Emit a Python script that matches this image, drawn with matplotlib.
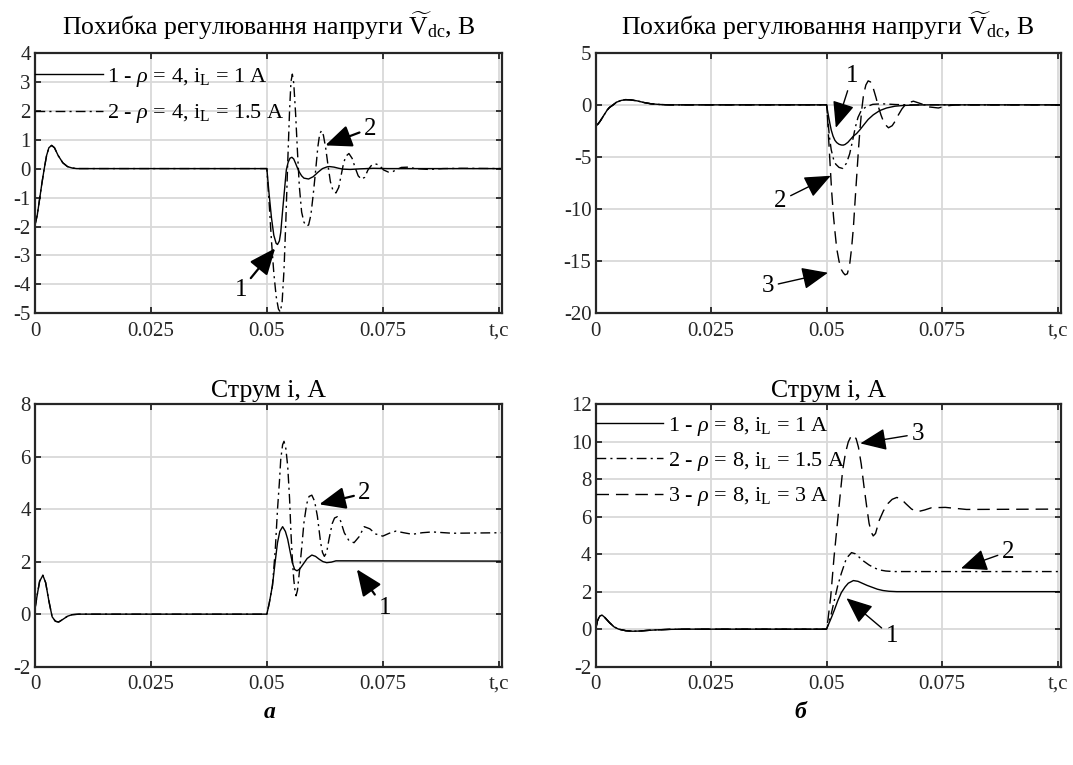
import matplotlib
matplotlib.use('Agg')
import matplotlib.pyplot as plt

# fonts - Times-like serif, hyphen minus as in the original figure
plt.rcParams['font.family'] = ['Liberation Serif', 'DejaVu Serif']
plt.rcParams['mathtext.fontset'] = 'custom'
plt.rcParams['mathtext.rm'] = 'Liberation Serif'
plt.rcParams['mathtext.it'] = 'Liberation Serif:italic'
plt.rcParams['mathtext.bf'] = 'Liberation Serif:bold'
plt.rcParams['axes.unicode_minus'] = False

# common x axis
x_ticks = [0, 0.025, 0.05, 0.075, 0.1]
x_tick_labels = ['0', '0.025', '0.05', '0.075', 't,c']
x_max = 0.1007

# ---------------- (a) rho = 4 : voltage error ----------------
init_a_t = [0, 0.0005, 0.001, 0.0015, 0.002, 0.0025, 0.003, 0.0036, 0.0042, 0.005, 0.006, 0.007, 0.008, 0.009, 0.05]
init_a_v = [-1.95, -1.6, -1.05, -0.5, 0.0, 0.45, 0.72, 0.8, 0.72, 0.45, 0.2, 0.07, 0.02, 0.0, 0.0]

vdc_a1_t = [0.0505, 0.051, 0.0515, 0.052, 0.0523, 0.0527, 0.053, 0.0534, 0.0538, 0.0542, 0.0546, 0.055, 0.0554,
            0.0558, 0.0562, 0.0566, 0.057, 0.0575, 0.058, 0.059, 0.060, 0.061, 0.062, 0.063, 0.0635, 0.0645, 0.0655,
            0.0665, 0.068, 0.070, 0.073, 0.076, 0.101]
vdc_a1_v = [-0.9, -1.7, -2.3, -2.58, -2.62, -2.5, -2.2, -1.45, -0.75, -0.05, 0.22, 0.36, 0.39, 0.33, 0.18, 0.02,
            -0.12, -0.25, -0.33, -0.36, -0.28, -0.13, 0.0, 0.06, 0.07, 0.05, 0.01, -0.02, -0.03, -0.01, 0.01, 0.0, 0.0]

vdc_a2_t = [0.0505, 0.051, 0.0515, 0.052, 0.0525, 0.0529, 0.0533, 0.0537, 0.0541, 0.0545, 0.0549, 0.0552, 0.0555,
            0.0558, 0.0562, 0.0566, 0.057, 0.0575, 0.058, 0.0585, 0.059, 0.0595, 0.060, 0.0605, 0.061, 0.0614, 0.0618,
            0.0622, 0.0627, 0.0632, 0.0637, 0.0643, 0.0649, 0.0655, 0.066, 0.0665, 0.067, 0.0677, 0.0684, 0.069,
            0.0697, 0.0704, 0.0711, 0.0718, 0.0725, 0.0733, 0.0742, 0.0752, 0.0762, 0.0772, 0.0782, 0.079, 0.0805,
            0.082, 0.085, 0.088, 0.092, 0.101]
vdc_a2_v = [-1.2, -2.5, -3.6, -4.4, -4.85, -4.95, -4.6, -3.5, -1.8, 0.2, 2.0, 3.0, 3.26, 2.95, 1.9, 0.6, -0.6,
            -1.5, -1.85, -1.98, -1.95, -1.6, -0.9, -0.1, 0.75, 1.2, 1.31, 1.15, 0.7, 0.1, -0.45, -0.78, -0.84,
            -0.65, -0.25, 0.15, 0.42, 0.52, 0.35, 0.05, -0.25, -0.37, -0.3, -0.05, 0.1, 0.17, 0.12, -0.05, -0.12,
            -0.1, -0.02, 0.04, 0.05, 0.0, -0.03, 0.0, 0.01, 0.0]

# ---------------- (b) rho = 8 : voltage error ----------------
init_b_t = [0, 0.0005, 0.001, 0.0015, 0.002, 0.0025, 0.003, 0.0038, 0.0045, 0.0055, 0.0065, 0.0075, 0.009, 0.0105,
            0.012, 0.014, 0.016, 0.05]
init_b_v = [-2.0, -1.85, -1.55, -1.2, -0.85, -0.5, -0.25, 0.0, 0.25, 0.42, 0.5, 0.48, 0.38, 0.22, 0.1, 0.03, 0.0, 0.0]

vdc_b1_t = [0.0503, 0.0507, 0.051, 0.0514, 0.0518, 0.0522, 0.0527, 0.0532, 0.0536, 0.054, 0.0546, 0.0552, 0.0558,
            0.0565, 0.0572, 0.058, 0.059, 0.0601, 0.0615, 0.063, 0.0648, 0.0666, 0.069, 0.072, 0.101]
vdc_b1_v = [-0.8, -1.75, -2.4, -3.0, -3.4, -3.62, -3.78, -3.85, -3.86, -3.8, -3.6, -3.3, -3.0, -2.75, -2.4, -1.95,
            -1.4, -0.96, -0.55, -0.3, -0.13, -0.06, -0.02, 0.0, 0.0]

vdc_b2_t = [0.0503, 0.0506, 0.051, 0.0515, 0.052, 0.0527, 0.0535, 0.0543, 0.055, 0.0556, 0.0562, 0.0568, 0.0575,
            0.0585, 0.060, 0.062, 0.065, 0.068, 0.101]
vdc_b2_v = [-1.5, -3.0, -4.3, -5.2, -5.7, -6.0, -6.1, -5.6, -4.7, -3.5, -2.2, -1.2, -0.55, -0.2, 0.05, 0.1, 0.03,
            0.0, 0.0]

vdc_b3_t = [0.0502, 0.0504, 0.0508, 0.0511, 0.0515, 0.0518, 0.0522, 0.0527, 0.0532, 0.0536, 0.054, 0.0545, 0.055,
            0.0554, 0.0558, 0.0562, 0.0565, 0.0569, 0.0572, 0.0576, 0.058, 0.0585, 0.059, 0.0595, 0.0601, 0.0607,
            0.0612, 0.0618, 0.0625, 0.0634, 0.0642, 0.0648, 0.0655, 0.0663, 0.0673, 0.0688, 0.0705, 0.0722, 0.0742,
            0.076, 0.078, 0.101]
vdc_b3_v = [-1.2, -2.9, -6.0, -8.3, -10.7, -12.1, -13.8, -15.0, -15.8, -16.1, -16.3, -16.2, -15.3, -13.8, -11.8,
            -9.0, -7.0, -4.3, -2.5, -0.5, 0.96, 1.9, 2.3, 2.2, 1.6, 0.7, -0.16, -1.0, -1.8, -2.2, -2.0, -1.6, -1.0,
            -0.4, 0.15, 0.35, 0.1, -0.2, -0.3, -0.1, 0.0, 0.0]

# ---------------- (a) rho = 4 : current ----------------
init_c_t = [0, 0.0005, 0.001, 0.0017, 0.0023, 0.003, 0.0037, 0.0044, 0.0051, 0.006, 0.007, 0.008, 0.0095, 0.05]
init_c_v = [0.2, 0.75, 1.25, 1.48, 1.2, 0.5, -0.1, -0.27, -0.3, -0.2, -0.08, -0.02, 0.0, 0.0]

cur_a1_t = [0.0505, 0.0512, 0.0518, 0.0523, 0.0528, 0.0534, 0.054, 0.0545, 0.055, 0.0555, 0.056, 0.0565, 0.0571,
            0.0577, 0.0587, 0.0597, 0.0605, 0.0613, 0.0621, 0.0629, 0.0639, 0.0649, 0.066, 0.101]
cur_a1_v = [0.4, 1.08, 2.0, 2.72, 3.15, 3.33, 3.15, 2.85, 2.4, 1.96, 1.7, 1.65, 1.72, 1.87, 2.12, 2.25, 2.2, 2.09,
            2.0, 1.96, 1.98, 2.03, 2.03, 2.02]

cur_a2_t = [0.0505, 0.0512, 0.0518, 0.0523, 0.0527, 0.053, 0.0534, 0.0537, 0.0541, 0.0545, 0.0549, 0.0552, 0.0555,
            0.0558, 0.0561, 0.0563, 0.0566, 0.057, 0.0575, 0.058, 0.0586, 0.0591, 0.0597, 0.0603, 0.0609, 0.0616,
            0.062, 0.0624, 0.0629, 0.0634, 0.0641, 0.0646, 0.0652, 0.0659, 0.0667, 0.0677, 0.0688, 0.0699, 0.071,
            0.0722, 0.0735, 0.075, 0.0764, 0.0778, 0.0795, 0.0814, 0.0835, 0.0857, 0.09, 0.101]
cur_a2_v = [0.4, 1.08, 2.4, 3.99, 5.0, 5.9, 6.45, 6.58, 6.3, 5.63, 4.4, 3.1, 2.1, 1.33, 0.85, 0.7, 0.9, 1.58, 2.5,
            3.48, 4.2, 4.48, 4.53, 4.3, 3.73, 2.72, 2.35, 2.2, 2.35, 2.85, 3.45, 3.66, 3.71, 3.55, 3.1, 2.8, 2.72,
            2.95, 3.33, 3.25, 3.05, 2.97, 3.08, 3.16, 3.1, 3.04, 3.1, 3.13, 3.08, 3.1]

# ---------------- (b) rho = 8 : current ----------------
init_d_t = [0, 0.0004, 0.0009, 0.0014, 0.002, 0.003, 0.004, 0.005, 0.0065, 0.008, 0.0095, 0.011, 0.013, 0.016,
            0.02, 0.05]
init_d_v = [0.0, 0.45, 0.7, 0.75, 0.62, 0.35, 0.12, 0.0, -0.08, -0.11, -0.1, -0.07, -0.04, -0.01, 0.0, 0.0]

cur_b1_t = [0.0505, 0.0511, 0.0517, 0.0524, 0.0532, 0.054, 0.0547, 0.0558, 0.0568, 0.0577, 0.0588, 0.0599, 0.061,
            0.0622, 0.0635, 0.0652, 0.101]
cur_b1_v = [0.3, 0.65, 1.03, 1.5, 1.95, 2.25, 2.45, 2.59, 2.55, 2.45, 2.33, 2.23, 2.13, 2.06, 2.02, 2.0, 2.0]

cur_b2_t = [0.0504, 0.051, 0.0517, 0.0524, 0.0532, 0.0543, 0.0554, 0.0562, 0.0569, 0.058, 0.0592, 0.0603, 0.0614,
            0.0628, 0.0645, 0.101]
cur_b2_v = [0.3, 0.8, 1.56, 2.3, 2.98, 3.78, 4.08, 4.02, 3.87, 3.63, 3.42, 3.27, 3.16, 3.1, 3.07, 3.07]

cur_b3_t = [0.0503, 0.0509, 0.0516, 0.0524, 0.053, 0.0535, 0.0541, 0.0547, 0.0553, 0.0558, 0.0564, 0.0569, 0.0575,
            0.0581, 0.0587, 0.0592, 0.0597, 0.0601, 0.0606, 0.0614, 0.0623, 0.0633, 0.0642, 0.0652, 0.0661, 0.0671,
            0.0684, 0.0697, 0.0712, 0.0727, 0.0757, 0.0803, 0.101]
cur_b3_v = [0.5, 1.74, 3.8, 5.8, 7.3, 8.5, 9.4, 9.98, 10.28, 10.34, 10.15, 9.7, 8.8, 7.6, 6.5, 5.64, 5.15, 4.97,
            5.1, 5.8, 6.3, 6.7, 6.92, 7.02, 6.95, 6.7, 6.4, 6.26, 6.35, 6.47, 6.49, 6.38, 6.4]

# labels
title_v = r'Похибка регулювання напруги $\widetilde{\mathrm{V}}_\mathrm{dc}$, В'
title_i = 'Струм і, А'
labels_a = [r'1 - $\rho$ = 4, $\mathrm{i}_\mathrm{L}$ = 1 A',
            r'2 - $\rho$ = 4, $\mathrm{i}_\mathrm{L}$ = 1.5 A']
labels_b = [r'1 - $\rho$ = 8, $\mathrm{i}_\mathrm{L}$ = 1 A',
            r'2 - $\rho$ = 8, $\mathrm{i}_\mathrm{L}$ = 1.5 A',
            r'3 - $\rho$ = 8, $\mathrm{i}_\mathrm{L}$ = 3 A']

# line styles of curves 1, 2, 3
styles = [dict(color='black', lw=1.0, linestyle='-'),
          dict(color='black', lw=1.0, linestyle=(0, (7, 3, 1.5, 3))),
          dict(color='black', lw=1.0, linestyle=(0, (9, 5)))]


def style_axes(ax, yticks, title, title_pad):
    ax.set_xlim(0, x_max)
    ax.set_ylim(yticks[0], yticks[-1])
    ax.set_xticks(x_ticks)
    ax.set_xticklabels(x_tick_labels)
    ax.set_yticks(yticks)
    ax.grid(True, color='#d9d9d9', lw=1.3)
    ax.set_axisbelow(True)
    ax.tick_params(direction='in', top=True, right=True, length=4, width=1.3, labelsize=15, colors='#262626')
    ax.tick_params(axis='x', pad=6)
    ax.tick_params(axis='y', pad=3)
    for s in ax.spines.values():
        s.set_linewidth(1.6)
        s.set_color('#262626')
    ax.set_title(title, fontsize=18.5, pad=title_pad)


def arrow(ax, text, tip, txt, lw):
    ax.annotate(text, xy=tip, xytext=txt, fontsize=18, ha='center', va='center',
                arrowprops=dict(arrowstyle='-|>,head_length=0.9,head_width=0.38', color='black', lw=lw,
                                shrinkA=1, shrinkB=0))


fig = plt.figure(figsize=(10.73, 7.65), dpi=100)
ax1 = fig.add_axes([0.0326, 0.5903, 0.4352, 0.3408])
ax2 = fig.add_axes([0.5551, 0.5903, 0.4335, 0.3408])
ax3 = fig.add_axes([0.0326, 0.1285, 0.4352, 0.3434])
ax4 = fig.add_axes([0.5551, 0.1285, 0.4335, 0.3434])

# top left
h1, = ax1.plot(init_a_t + vdc_a1_t, init_a_v + vdc_a1_v, **styles[0])
h2, = ax1.plot(init_a_t + vdc_a2_t, init_a_v + vdc_a2_v, **styles[1])
style_axes(ax1, [-5, -4, -3, -2, -1, 0, 1, 2, 3, 4], title_v, 13)
ax1.legend([h1, h2], labels_a, loc='upper left', bbox_to_anchor=(0, 0.95), frameon=False, fontsize=16,
           handlelength=3.05, handletextpad=0.2, labelspacing=0.61, borderaxespad=0, borderpad=0)
arrow(ax1, '1', (0.0518, -2.75), (0.0444, -4.2), 1.6)
arrow(ax1, '2', (0.0626, 0.8), (0.0722, 1.38), 1.6)

# top right
ax2.plot(init_b_t + vdc_b1_t, init_b_v + vdc_b1_v, **styles[0])
ax2.plot(init_b_t + vdc_b2_t, init_b_v + vdc_b2_v, **styles[1])
ax2.plot(init_b_t + vdc_b3_t, init_b_v + vdc_b3_v, **styles[2])
style_axes(ax2, [-20, -15, -10, -5, 0, 5], title_v, 13)
arrow(ax2, '1', (0.052, -2.2), (0.0556, 2.8), 1.0)
arrow(ax2, '2', (0.0509, -6.8), (0.040, -9.2), 1.0)
arrow(ax2, '3', (0.0503, -16.1), (0.0373, -17.4), 1.0)

# bottom left
ax3.plot(init_c_t + cur_a1_t, init_c_v + cur_a1_v, **styles[0])
ax3.plot(init_c_t + cur_a2_t, init_c_v + cur_a2_v, **styles[1])
style_axes(ax3, [-2, 0, 2, 4, 6, 8], title_i, 5)
arrow(ax3, '2', (0.0613, 4.18), (0.071, 4.6), 1.6)
arrow(ax3, '1', (0.0694, 1.71), (0.0754, 0.22), 1.6)

# bottom right
g1, = ax4.plot(init_d_t + cur_b1_t, init_d_v + cur_b1_v, **styles[0])
g2, = ax4.plot(init_d_t + cur_b2_t, init_d_v + cur_b2_v, **styles[1])
g3, = ax4.plot(init_d_t + cur_b3_t, init_d_v + cur_b3_v, **styles[2])
style_axes(ax4, [-2, 0, 2, 4, 6, 8, 10, 12], title_i, 5)
ax4.legend([g1, g2, g3], labels_b, loc='upper left', bbox_to_anchor=(0, 0.958), frameon=False, fontsize=16,
           handlelength=3.05, handletextpad=0.2, labelspacing=0.55, borderaxespad=0, borderpad=0)
arrow(ax4, '3', (0.0573, 9.9), (0.0697, 10.4), 1.0)
arrow(ax4, '2', (0.0791, 3.24), (0.0893, 4.13), 1.0)
arrow(ax4, '1', (0.0543, 1.65), (0.0641, -0.39), 1.0)

fig.text(0.2515, 0.068, 'а', fontsize=17, fontweight='bold', fontstyle='italic', ha='center', va='center')
fig.text(0.7455, 0.068, 'б', fontsize=17, fontweight='bold', fontstyle='italic', ha='center', va='center')

fig.savefig('out.png', dpi=100)
